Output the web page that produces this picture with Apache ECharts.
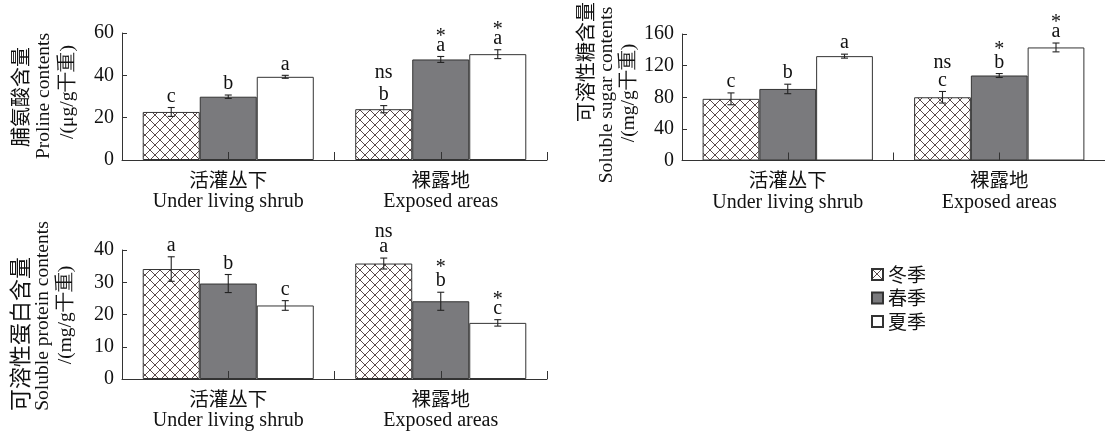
<!DOCTYPE html>
<html><head><meta charset="utf-8">
<script src="https://cdn.jsdelivr.net/npm/echarts@6/dist/echarts.min.js"></script>
<style>html,body{margin:0;padding:0;background:#fff}#c{width:1105px;height:436px}</style>
</head><body><div id="c"></div>
<script>
// ---------- DATA ----------
const categoriesCn = ['活灌丛下', '裸露地'];
const categoriesEn = ['Under living shrub', 'Exposed areas'];
const seasons = ['冬季', '春季', '夏季'];

// values per season: [活灌丛下, 裸露地]
const prolineValues = [[22.7, 24.0], [29.9, 47.5], [39.3, 50.0]];
const prolineErrors = [[2.1, 1.7], [0.8, 1.4], [0.7, 2.1]];
const prolineLetters = [['c', 'b'], ['b', 'a'], ['a', 'a']];
const prolineMarks = [['', 'ns'], ['', '*'], ['', '*']];

const sugarValues = [[78.0, 80.0], [90.5, 107.5], [132.0, 143.0]];
const sugarErrors = [[7.5, 7.3], [6.0, 2.5], [2.5, 5.6]];
const sugarLetters = [['c', 'c'], ['b', 'b'], ['a', 'a']];
const sugarMarks = [['', 'ns'], ['', '*'], ['', '*']];

const proteinValues = [[34.1, 35.8], [29.6, 24.1], [22.8, 17.4]];
const proteinErrors = [[3.8, 1.7], [2.8, 2.8], [1.5, 1.0]];
const proteinLetters = [['a', 'a'], ['b', 'b'], ['c', 'c']];
const proteinMarks = [['', 'ns'], ['', '*'], ['', '*']];

const prolineTicks = {min: 0, max: 60, interval: 20};
const sugarTicks = {min: 0, max: 160, interval: 40};
const proteinTicks = {min: 0, max: 40, interval: 10};

const yNames = [
  ['脯氨酸含量', 'Proline contents', '/(μg/g干重)'],
  ['可溶性糖含量', 'Soluble sugar contents', '/(mg/g干重)'],
  ['可溶性蛋白含量', 'Soluble protein contents', '/(mg/g干重)']
];

// ---------- STYLE ----------
const SERIF = '"Liberation Serif","DejaVu Serif",serif';
const CJK = '"Noto Sans CJK SC","Noto Sans",sans-serif';
const AXIS = '#333';

function hatch() {
  const c = document.createElement('canvas');
  c.width = 10; c.height = 10;
  const g = c.getContext('2d');
  g.fillStyle = '#fff'; g.fillRect(0, 0, 10, 10);
  g.strokeStyle = '#5a4a4a'; g.lineWidth = 1;
  g.beginPath();
  g.moveTo(-1, -1); g.lineTo(11, 11);
  g.moveTo(11, -1); g.lineTo(-1, 11);
  g.stroke();
  return c;
}
const fills = [{image: hatch(), repeat: 'repeat'}, '#7a7a7d', '#ffffff'];

const panels = [
  {values: prolineValues, errors: prolineErrors, letters: prolineLetters, marks: prolineMarks, ticks: prolineTicks,
   grid: {left: 122, top: 33, width: 425, height: 127}},
  {values: sugarValues, errors: sugarErrors, letters: sugarLetters, marks: sugarMarks, ticks: sugarTicks,
   grid: {left: 682, top: 34, width: 428, height: 126.5}},
  {values: proteinValues, errors: proteinErrors, letters: proteinLetters, marks: proteinMarks, ticks: proteinTicks,
   grid: {left: 122, top: 250, width: 425, height: 129}}
];

const CAT_GAP = 0.195;
const LABEL_FONT = '20px ' + SERIF;
const NS_LIFT = {a: 15, b: 22, c: 18};

const grid = [], xAxis = [], yAxis = [], series = [];
panels.forEach((p, pi) => {
  grid.push(Object.assign({containLabel: false}, p.grid));
  xAxis.push({
    type: 'category', gridIndex: pi, data: categoriesCn.map((c, i) => i),
    axisLine: {lineStyle: {color: AXIS, width: 1}},
    axisTick: {show: false},
    axisLabel: {
      margin: 8, interval: 0,
      formatter: v => '{cn|' + categoriesCn[+v] + '}\n{en|' + categoriesEn[+v] + '}',
      rich: {
        cn: {fontFamily: CJK, fontSize: 19.5, color: '#111', lineHeight: 23},
        en: {fontFamily: SERIF, fontSize: 20, color: '#111', lineHeight: 22}
      }
    }
  });
  // tick-only axis: boundary and centre ticks
  xAxis.push({
    type: 'value', gridIndex: pi, min: 0, max: 4, interval: 1, position: 'bottom', z: 5,
    axisLine: {show: false}, axisLabel: {show: false}, splitLine: {show: false},
    axisTick: {show: true, inside: true, length: 8, lineStyle: {color: AXIS}}
  });
  yAxis.push({
    type: 'value', gridIndex: pi, min: p.ticks.min, max: p.ticks.max, interval: p.ticks.interval,
    axisLine: {show: true, lineStyle: {color: AXIS, width: 1}},
    axisTick: {show: true, inside: true, length: 5, lineStyle: {color: AXIS}},
    splitLine: {show: false},
    axisLabel: {fontFamily: SERIF, fontSize: 20, color: '#111', margin: 8}
  });
  const xi = pi * 2;
  seasons.forEach((s, si) => {
    series.push({
      type: 'bar', name: s, xAxisIndex: xi, yAxisIndex: pi,
      data: p.values[si], barGap: '0%', barCategoryGap: (CAT_GAP * 100) + '%',
      itemStyle: {color: fills[si], borderColor: '#333', borderWidth: 1},
      emphasis: {disabled: true}, animation: false
    });
  });
  const edata = [];
  seasons.forEach((s, si) => categoriesCn.forEach((c, ci) => {
    edata.push([ci, si, p.values[si][ci], p.errors[si][ci], p.letters[si][ci], p.marks[si][ci]]);
  }));
  series.push({
    type: 'custom', xAxisIndex: xi, yAxisIndex: pi, animation: false, silent: true,
    encode: {x: 0, y: 2},
    data: edata.map(d => [d[0], d[1], d[2], d[3]]),
    z: 10,
    renderItem: (params, api) => {
      const d = edata[params.dataIndex];
      const ci = api.value(0), si = api.value(1), v = api.value(2), e = api.value(3);
      const bandW = api.size([1, 0])[0];
      const barW = bandW * (1 - CAT_GAP) / 3;
      const center = api.coord([ci, v]);
      const x = center[0] + (si - 1) * barW;
      const top = api.coord([ci, v + e])[1];
      const bot = api.coord([ci, v - e])[1];
      const cap = 3.5;
      const style = {stroke: '#222', lineWidth: 1.1};
      const children = [
        {type: 'line', shape: {x1: x, y1: top, x2: x, y2: bot}, style},
        {type: 'line', shape: {x1: x - cap, y1: top, x2: x + cap, y2: top}, style},
        {type: 'line', shape: {x1: x - cap, y1: bot, x2: x + cap, y2: bot}, style}
      ];
      const letterBottom = top - 1;
      children.push({type: 'text', x: x, y: letterBottom,
        style: {text: d[4], font: LABEL_FONT, fill: '#111', textAlign: 'center', textVerticalAlign: 'bottom'}});
      if (d[5] === 'ns') {
        children.push({type: 'text', x: x, y: letterBottom - NS_LIFT[d[4]],
          style: {text: 'ns', font: LABEL_FONT, fill: '#111', textAlign: 'center', textVerticalAlign: 'bottom'}});
      } else if (d[5] === '*') {
        const lift = d[4] === 'b' ? 13 : 9;
        children.push({type: 'text', x: x, y: letterBottom - lift,
          style: {text: '*', font: LABEL_FONT, fill: '#111', textAlign: 'center', textVerticalAlign: 'bottom'}});
      }
      return {type: 'group', children};
    }
  });
});

// rotated y-axis titles
const rot = Math.PI / 2;
function vtext(x, y, text, font, align) {
  return {type: 'text', x, y, rotation: rot, silent: true,
    style: {text, font, fill: '#111', textAlign: align || 'center', textVerticalAlign: 'middle'}};
}
const cjkFont = '20px ' + CJK;
const enFont = '19.5px ' + SERIF;
const graphic = [
  vtext(20, 97, yNames[0][0], cjkFont),
  vtext(44, 96, yNames[0][1], enFont),
  vtext(68, 92, yNames[0][2], enFont),
  vtext(585, 2, yNames[1][0], cjkFont, 'right'),
  vtext(607, 95, yNames[1][1], enFont),
  vtext(629, 93, yNames[1][2], enFont),
  vtext(20, 411, yNames[2][0], '22px ' + CJK, 'left'),
  vtext(43, 316, yNames[2][1], enFont),
  vtext(66, 315, yNames[2][2], enFont)
];

const chart = echarts.init(document.getElementById('c'), null, {renderer: 'canvas'});
chart.setOption({
  animation: false,
  backgroundColor: '#fff',
  grid, xAxis, yAxis, series, graphic,
  legend: {
    data: seasons, orient: 'vertical', left: 866, top: 260,
    itemWidth: 11, itemHeight: 11, itemGap: 4.5, icon: 'rect',
    textStyle: {fontFamily: CJK, fontSize: 19, color: '#111', lineHeight: 19},
    selectedMode: false
  }
});
</script></body></html>
